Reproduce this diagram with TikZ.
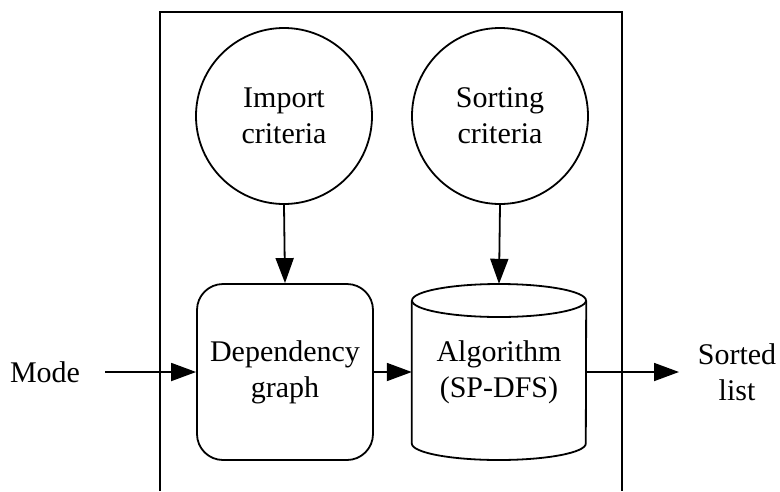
\documentclass[tikz,border=0pt]{standalone}
\usepackage{fontspec}
\setmainfont{Liberation Serif}
\usetikzlibrary{arrows.meta}
\begin{document}
\begin{tikzpicture}[x=1pt,y=-1pt,
  lw/.style={line width=1.8pt},
  txt/.style={font=\fontsize{30}{36}\selectfont, align=center},
  arr/.style={lw, -{Triangle[length=25pt,width=18pt]}},
  circ/.style={circle, draw, lw, minimum size=176pt, inner sep=0pt, txt},
  rbox/.style={draw, lw, rounded corners=26pt, txt, inner sep=0pt},
  cylbox/.style={txt, inner sep=0pt}]
\useasboundingbox (0,0) rectangle (780,491);
% outer frame (open at bottom)
\draw[lw] (160,491) -- (160,12) -- (622,12) -- (622,491);
\node[circ] (imp) at (284,116) {Import\\criteria};
\node[circ] (sort) at (500,116) {Sorting\\criteria};
\node[rbox, minimum width=176pt, minimum height=176pt] (dep) at (285,372) {Dependency\\graph};
\node[cylbox, minimum width=174pt, minimum height=176pt] (alg) at (499,372) {Algorithm\\(SP-DFS)};
% cylinder outline
\draw[lw] (alg.west |- 0,300.5) -- (alg.west |- 0,443.5)
  arc[start angle=180, end angle=360, x radius=87pt, y radius=16.5pt]
  -- (alg.east |- 0,300.5);
\draw[lw] (499,300.5) ellipse[x radius=87pt, y radius=16.5pt];
\node[txt] (mode) at (45,372) {Mode};
\node[txt] (out) at (737,372) {Sorted\\list};
\coordinate (ms) at (105,372);
\coordinate (oe) at (679,372);
\draw[arr] (imp.south) -- (dep.north);
\draw[arr] (sort.south) -- (alg.north);
\draw[arr] (ms) -- (dep.west);
\draw[arr] (dep.east) -- (alg.west);
\draw[arr] (alg.east) -- (oe);
\end{tikzpicture}
\end{document}
